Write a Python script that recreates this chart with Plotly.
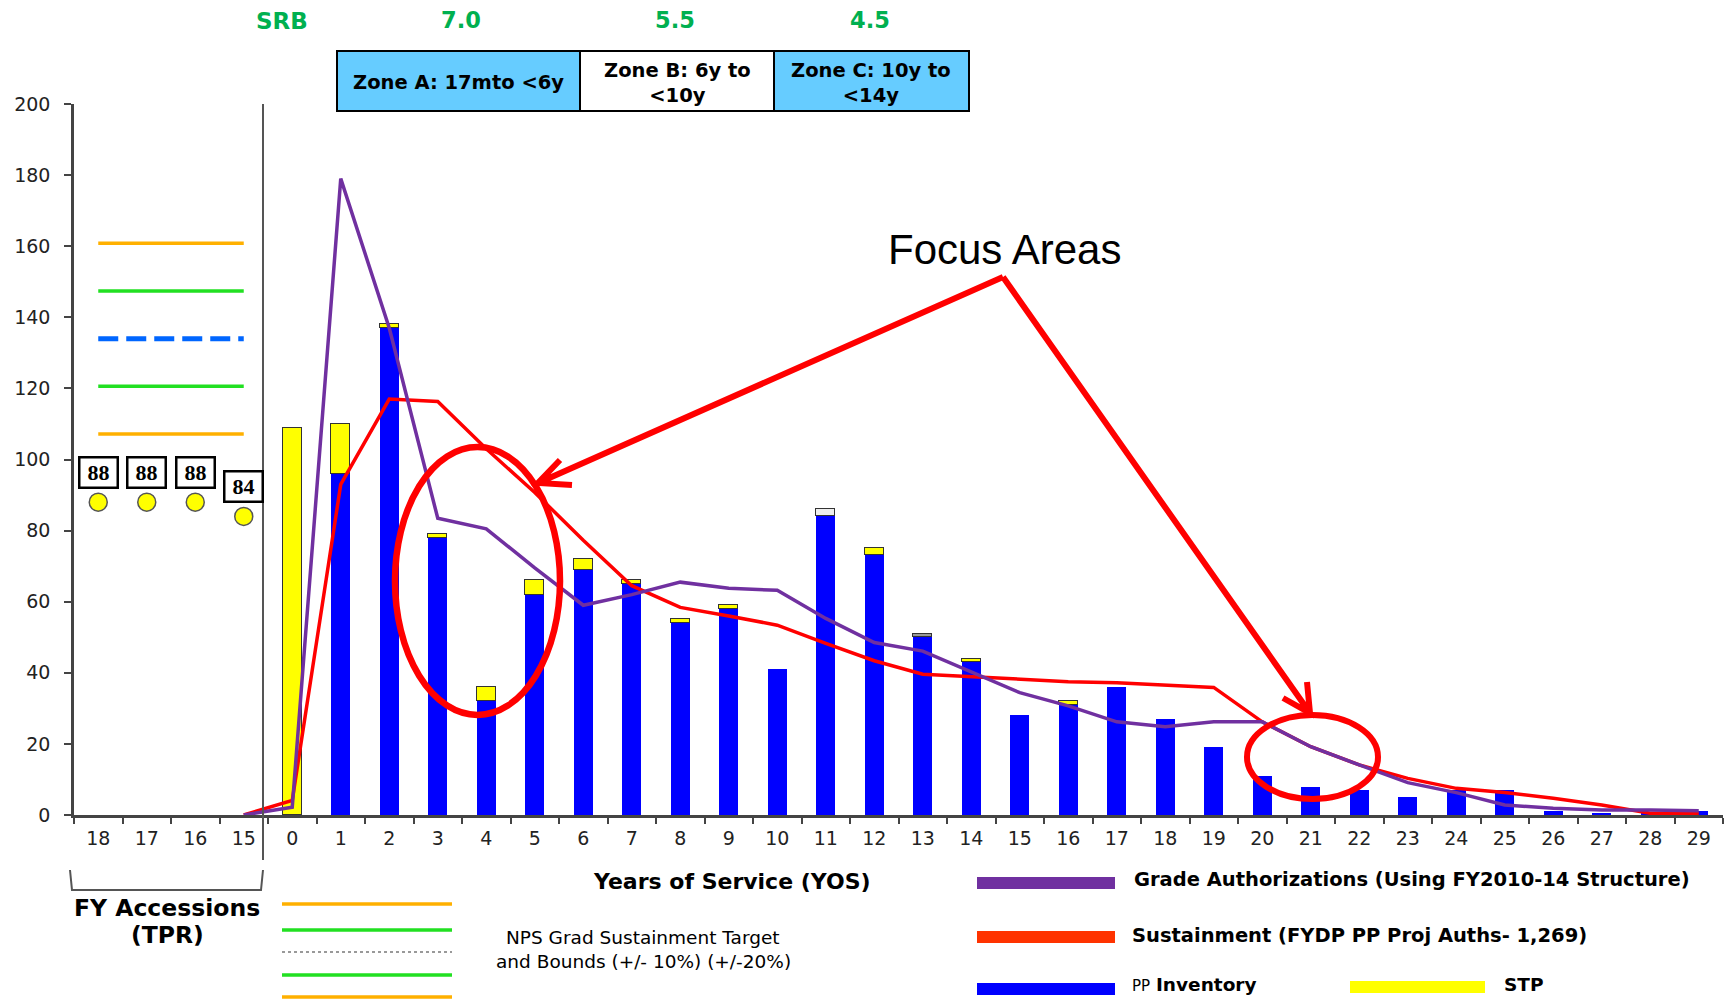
import plotly.graph_objects as go

# ---------------------------------------------------------------- data
accession_years = ["18", "17", "16", "15"]
accessions = [88, 88, 88, 84]

# NPS grad sustainment target (134) and its +/-10% and +/-20% bounds
target_levels = [107.2, 120.6, 134.0, 147.4, 160.8]
target_styles = ["orange", "green", "target", "green", "orange"]

yos = [str(i) for i in range(30)]
pp_inventory = [0, 96, 137, 78, 32, 62, 69, 65, 54, 58,
                41, 84, 73, 50, 43, 28, 31, 36, 27, 19,
                11, 8, 7, 5, 7, 7, 1, 0.5, 0.5, 1]
stp = [109, 14, 1, 1, 4, 4, 3, 1, 1, 1,
       0, 2, 2, 1, 1, 0, 1, 0, 0, 0,
       0, 0, 0, 0, 0, 0, 0, 0, 0, 0]

# lines start at the last accession year (15) and run through YOS 29
line_labels = ["15"] + yos
grade_auth = [0, 2.2, 179, 137, 83.5, 80.5, 69.5, 59, 62, 65.5, 63.8,
              63.2, 55.3, 48.5, 46.1, 40.3, 34.4, 30.7, 26.2, 24.8, 26.2,
              26.2, 19.2, 14.1, 9.1, 6.3, 2.8, 1.9, 1.4, 1.4, 1.2]
sustainment = [0, 4.1, 93, 117, 116.3, 103, 90.7, 77.3, 64.5, 58.4, 56,
               53.4, 48.3, 43.4, 39.6, 38.9, 38.0, 37.5, 37.2, 36.6, 35.9,
               26.2, 19.2, 14.1, 10.3, 7.5, 6.3, 4.7, 2.8, 0.5, 0.5]

srb_values = ["7.0", "5.5", "4.5"]
zone_labels = ["Zone A: 17mto <6y", "Zone B: 6y to<br><10y", "Zone C: 10y to<br><14y"]

# ------------------------------------------------------------ geometry
W, H = 1733, 1000
L, R, T, B = 74, 10, 104, 185
PW, PH = W - L - R, H - T - B

all_labels = accession_years + yos
x_acc = list(range(len(accession_years)))
x_yos = [len(accession_years) + i for i in range(len(yos))]
x_line = [len(accession_years) - 1] + x_yos


def px(x, y):
    """page pixel -> paper coordinates"""
    return (x - L) / PW, 1 - (y - T) / PH


SANS = "DejaVu Sans, Arial, sans-serif"
ARIAL = "Liberation Sans, Arial, sans-serif"
BLUE = "#0000FF"
YELLOW = "#FFFF00"
PURPLE = "#7030A0"
RED = "#FF0000"
ORANGE = "#FFB000"
GREEN = "#22E022"
DASHBLUE = "#0066FF"

fig = go.Figure()

# stacked bars: PP inventory with STP on top
fig.add_trace(go.Bar(
    x=x_yos, y=[v if v else None for v in pp_inventory], width=0.4,
    marker=dict(color=BLUE, line=dict(width=0)), name="PP Inventory"))
stp_colors = [YELLOW] * len(stp)
stp_colors[11] = "#EEEEEE"
stp_colors[13] = "#999999"
fig.add_trace(go.Bar(
    x=x_yos, y=[v if v else None for v in stp], width=0.4,
    marker=dict(color=stp_colors, line=dict(color="#333333", width=1.5)), name="STP"))

fig.add_trace(go.Scatter(x=x_line, y=sustainment, mode="lines",
                         line=dict(color=RED, width=3.5), name="Sustainment"))
fig.add_trace(go.Scatter(x=x_line, y=grade_auth, mode="lines",
                         line=dict(color=PURPLE, width=3.5), name="Grade Authorizations"))

# target and bounds over the accession years
for lvl, sty in zip(target_levels, target_styles):
    if sty == "target":
        ln = dict(color=DASHBLUE, width=5, dash="20px,8px")
    else:
        ln = dict(color=ORANGE if sty == "orange" else GREEN, width=3.5)
    fig.add_trace(go.Scatter(x=[x_acc[0], x_acc[-1]], y=[lvl, lvl], mode="lines", line=ln))

# accessions per FY
fig.add_trace(go.Scatter(x=x_acc, y=accessions, mode="markers",
                         marker=dict(color=YELLOW, size=18,
                                     line=dict(color="#555555", width=1.5))))

annotations = []
for xa, v in zip(x_acc, accessions):
    annotations.append(dict(x=xa, y=v, xref="x", yref="y", text="<b>%d</b>" % v,
                            showarrow=False, yshift=30, width=32, height=24,
                            bgcolor="white", bordercolor="black", borderwidth=2.5,
                            borderpad=2,
                            font=dict(family="Liberation Serif, Times New Roman, serif",
                                      size=22, color="black")))


def text(x, y, s, size, bold=False, color="black", anchor="center", family=SANS):
    px_, py_ = px(x, y)
    annotations.append(dict(x=px_, y=py_, xref="paper", yref="paper",
                            text="<b>%s</b>" % s if bold else s, showarrow=False,
                            xanchor=anchor, yanchor="middle",
                            font=dict(family=family, size=size, color=color)))


# SRB header and zones
text(282, 21, "SRB", 23, True, "#00B050")
for xc, s in zip([461, 675, 870], srb_values):
    text(xc, 20, s, 22.5, True, "#00B050")

shapes = []
zone_edges = [337, 580, 774, 969]
zone_fill = ["#66CCFF", "#FFFFFF", "#66CCFF"]
for i in range(3):
    x0, y0 = px(zone_edges[i], 111)
    x1, y1 = px(zone_edges[i + 1], 51)
    shapes.append(dict(type="rect", xref="paper", yref="paper", x0=x0, x1=x1, y0=y0, y1=y1,
                       fillcolor=zone_fill[i], line=dict(color="black", width=2), layer="above"))
text(458, 82, zone_labels[0], 19.5, True)
text(677, 83, zone_labels[1], 19.5, True)
text(871, 83, zone_labels[2], 19.5, True)

# separator between accession years and YOS, plus bracket
sx, sy0 = px(263, 104)
_, sy1 = px(263, 860)
shapes.append(dict(type="line", xref="paper", yref="paper", x0=sx, x1=sx, y0=sy0, y1=sy1,
                   line=dict(color="#555555", width=2)))
p = [px(70, 870), px(72, 890), px(261, 890), px(263, 870)]
shapes.append(dict(type="path", xref="paper", yref="paper",
                   path="M %f %f L %f %f L %f %f L %f %f" % (p[0] + p[1] + p[2] + p[3]),
                   line=dict(color="#555555", width=2)))
text(167, 908, "FY Accessions", 23.5, True)
text(167, 935, "(TPR)", 23.5, True)

# x-axis title
text(732, 881, "Years of Service (YOS)", 22, True)

# bottom-left legend: target & bounds
for yy, col, dash in [(904, ORANGE, "solid"), (930, GREEN, "solid"), (952, "#999999", "dot"),
                      (975, GREEN, "solid"), (997, ORANGE, "solid")]:
    x0, y0 = px(282, yy)
    x1, _ = px(452, yy)
    shapes.append(dict(type="line", xref="paper", yref="paper", x0=x0, x1=x1, y0=y0, y1=y0,
                       line=dict(color=col, width=2 if dash == "dot" else 3.5, dash=dash)))
text(643, 937, "NPS Grad Sustainment Target", 18.5)
text(643, 961, "and Bounds (+/- 10%) (+/-20%)", 18.5)

# bottom-right legend
for (x0p, x1p, yc, col) in [(977, 1115, 883, PURPLE), (977, 1115, 937, "#FF3300"),
                            (977, 1115, 989, BLUE), (1350, 1485, 987, YELLOW)]:
    a, b0 = px(x0p, yc + 6)
    c, b1 = px(x1p, yc - 6)
    shapes.append(dict(type="rect", xref="paper", yref="paper", x0=a, x1=c, y0=b0, y1=b1,
                       fillcolor=col, line=dict(width=0)))
text(1132, 879, "Grade Authorizations (Using FY2010-14 Structure)", 19.5, True, anchor="left")
text(1130, 935, "Sustainment (FYDP PP Proj Auths- 1,269)", 19.5, True, anchor="left")
text(1130, 985, "<span style='font-size:15px'>PP</span> <b>Inventory</b>", 18.5, anchor="left")
text(1502, 985, "STP", 18.5, True, anchor="left")

# focus areas callout
text(1004, 250, "Focus Areas", 42, family=ARIAL)
apex = px(1003, 277)
t1, a1, b1 = px(538, 483), px(560, 460), px(572, 485)
t2, a2, b2 = px(1310, 713), px(1307, 682), px(1283, 698)
path = ("M %f %f L %f %f M %f %f L %f %f L %f %f "
        "M %f %f L %f %f M %f %f L %f %f L %f %f") % (
    apex + t1 + a1 + t1 + b1 + apex + t2 + a2 + t2 + b2)
shapes.append(dict(type="path", xref="paper", yref="paper", path=path,
                   line=dict(color=RED, width=6), layer="above"))
for (ex0, ey0, ex1, ey1, lw) in [(395, 447, 560, 715, 6.5), (1247, 715, 1378, 799, 6)]:
    x0, y0 = px(ex0, ey1)
    x1, y1 = px(ex1, ey0)
    shapes.append(dict(type="circle", xref="paper", yref="paper", x0=x0, x1=x1, y0=y0, y1=y1,
                       line=dict(color=RED, width=lw), layer="above"))

fig.update_layout(
    width=W, height=H, margin=dict(l=L, r=R, t=T, b=B, pad=0),
    paper_bgcolor="white", plot_bgcolor="white",
    barmode="stack", bargap=0, showlegend=False,
    font=dict(family=SANS, color="#222222"),
    shapes=shapes, annotations=annotations,
    xaxis=dict(range=[-0.5, len(all_labels) - 0.5], tickmode="array",
               tickvals=x_acc + x_yos, ticktext=all_labels, ticks="",
               tickfont=dict(size=19, family=SANS, color="#222222"),
               ticklabelstandoff=4,
               showline=True, linecolor="#444444", linewidth=2.5,
               showgrid=False, zeroline=False,
               minor=dict(tickmode="linear", tick0=-0.5, dtick=1, ticks="outside",
                          ticklen=6, tickwidth=2, tickcolor="#444444", showgrid=False)),
    yaxis=dict(range=[0, 200], tickmode="linear", tick0=0, dtick=20,
               ticks="outside", ticklen=7, tickwidth=2, tickcolor="#444444",
               tickfont=dict(size=19, family=SANS, color="#222222"),
               ticklabelstandoff=10,
               showline=True, linecolor="#444444", linewidth=2.5,
               showgrid=False, zeroline=False),
)

fig.write_html("out.html")
